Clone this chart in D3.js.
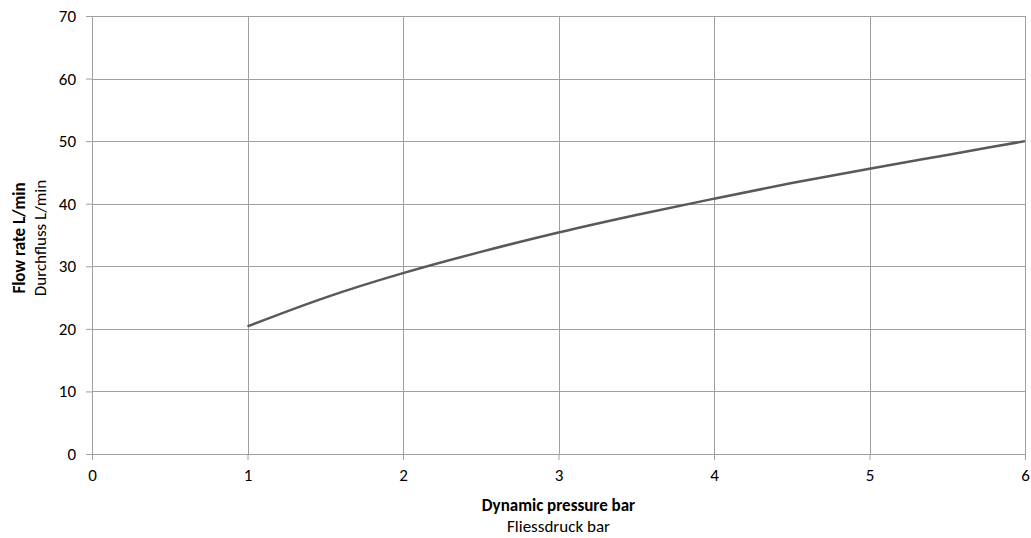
<!DOCTYPE html>
<html>
<head>
<meta charset="utf-8">
<script src="https://cdn.jsdelivr.net/npm/d3@7"></script>
<style>
    body { margin: 0; background: #fff; }
    text { font-family: Carlito, Lato, "Open Sans", sans-serif; fill: #000; }
</style>
</head>
<body>
<div id="container"></div>
<script>
// pressure (bar) vs flow (L/min)
var pressure = [1, 1.5, 2, 2.5, 3, 3.5, 4, 4.5, 5, 5.5, 6];
var flow = [20.4, 25.0, 28.9, 32.3, 35.4, 38.2, 40.8, 43.3, 45.6, 47.8, 50.0];
var xTicks = [0, 1, 2, 3, 4, 5, 6];
var yTicks = [0, 10, 20, 30, 40, 50, 60, 70];

var margin = { top: 16, bottom: 84, left: 92, right: 6 };
var width = 1031 - margin.left - margin.right,
    height = 538 - margin.top - margin.bottom;

var fontSize = "17px";

var x = d3.scaleLinear().domain([0, 6]).range([0, width]),
    y = d3.scaleLinear().domain([0, 70]).range([height, 0]);

var svg = d3.select("#container").append("svg")
    .attr("width", 1031)
    .attr("height", 538);

var graph = svg.append("g")
    .attr("transform", "translate(" + margin.left + "," + margin.top + ")");

// grid
graph.append("g").selectAll("line")
    .data(yTicks)
    .enter().append("line")
        .attr("x1", 0).attr("x2", width)
        .attr("y1", function(d) { return Math.round(y(d)) + 0.5; })
        .attr("y2", function(d) { return Math.round(y(d)) + 0.5; })
        .attr("stroke", "#a0a0a0");

graph.append("g").selectAll("line")
    .data(xTicks)
    .enter().append("line")
        .attr("y1", 0).attr("y2", height)
        .attr("x1", function(d) { return Math.round(x(d)) + 0.5; })
        .attr("x2", function(d) { return Math.round(x(d)) + 0.5; })
        .attr("stroke", "#a0a0a0");

// axes
var xAxis = graph.append("g")
    .attr("transform", "translate(0," + height + ")")
    .call(d3.axisBottom(x).tickValues(xTicks).tickSize(6).tickPadding(9).tickFormat(d3.format("d")));

var yAxis = graph.append("g")
    .call(d3.axisLeft(y).tickValues(yTicks).tickSize(6).tickPadding(10).tickFormat(d3.format("d")));

[xAxis, yAxis].forEach(function(a) {
    a.select(".domain").attr("stroke", "#a0a0a0");
    a.selectAll(".tick line").attr("stroke", "#a0a0a0");
    a.selectAll(".tick text")
        .style("font-family", "Carlito, Lato, 'Open Sans', sans-serif")
        .style("font-size", fontSize)
        .attr("fill", "#000");
});

// curve
var line = d3.line()
    .x(function(d, i) { return x(pressure[i]); })
    .y(function(d) { return y(d); })
    .curve(d3.curveMonotoneX);

graph.append("path")
    .datum(flow)
    .attr("fill", "none")
    .attr("stroke", "#595959")
    .attr("stroke-width", 2.5)
    .attr("d", line);

// axis titles
var xt = svg.append("text")
    .attr("text-anchor", "middle")
    .attr("font-size", fontSize);
xt.append("tspan")
    .attr("x", margin.left + width / 2).attr("y", 511)
    .attr("font-weight", "bold")
    .text("Dynamic pressure bar");
xt.append("tspan")
    .attr("x", margin.left + width / 2).attr("y", 532)
    .text("Fliessdruck bar");

var yt = svg.append("text")
    .attr("text-anchor", "middle")
    .attr("font-size", fontSize)
    .attr("transform", "translate(0,238) rotate(-90)");
yt.append("tspan")
    .attr("x", 0).attr("y", 25)
    .attr("font-weight", "bold")
    .text("Flow rate L/min");
yt.append("tspan")
    .attr("x", 0).attr("y", 46)
    .text("Durchfluss L/min");
</script>
</body>
</html>
